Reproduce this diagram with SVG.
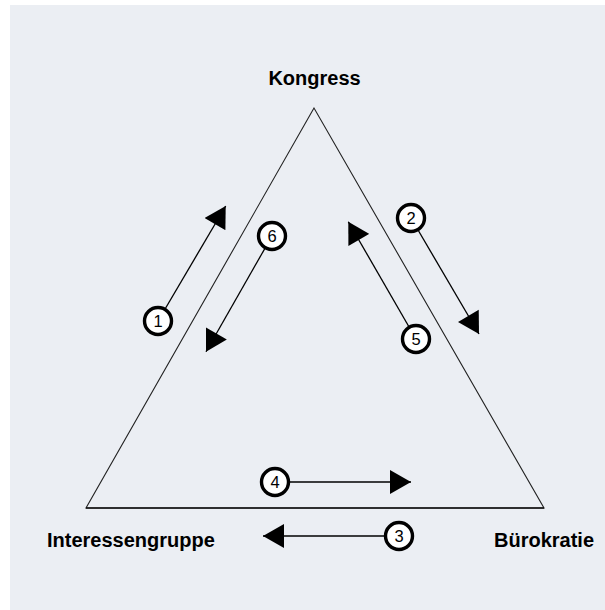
<svg xmlns="http://www.w3.org/2000/svg" width="605" height="610" viewBox="0 0 605 610">
  <defs>
    <marker id="head" markerUnits="userSpaceOnUse" markerWidth="22" markerHeight="24" viewBox="0 0 21 24" refX="21" refY="12" orient="auto">
      <path d="M0,0 L21,12 L0,24 Z" fill="#000"/>
    </marker>
    <style>
      .label { font-family: "Liberation Sans", Arial, sans-serif; font-weight: bold; font-size: 20px; fill: #000; }
      .edge { fill: none; stroke: #222; stroke-width: 1.1; }
      .arrow { fill: none; stroke: #000; stroke-width: 1.3; marker-end: url(#head); }
      .badge circle { fill: #fff; stroke: #000; stroke-width: 3.4; }
      .badge text { font-family: "Liberation Sans", Arial, sans-serif; font-size: 16.5px; fill: #000; text-anchor: middle; }
    </style>
  </defs>
  <rect x="0" y="0" width="605" height="610" fill="#ffffff"/>
  <rect x="10" y="5" width="595" height="605" fill="#ebeef3"/>

  <g id="triangle">
    <polygon class="edge" points="314,108 86,508 544,508"/>
    <line x1="86" y1="508" x2="544" y2="508" stroke="#111" stroke-width="1.5"/>
  </g>

  <g id="kongress">
    <text class="label" x="314.5" y="85" text-anchor="middle">Kongress</text>
  </g>
  <g id="interessengruppe">
    <text class="label" x="47" y="547">Interessengruppe</text>
  </g>
  <g id="buerokratie">
    <text class="label" x="594" y="547" text-anchor="end">Bürokratie</text>
  </g>

  <g id="connectors">
    <line class="arrow" x1="158" y1="321" x2="225.7" y2="206"/>
    <line class="arrow" x1="411" y1="218" x2="479" y2="334"/>
    <line class="arrow" x1="399" y1="536" x2="263" y2="536"/>
    <line class="arrow" x1="275" y1="482" x2="411" y2="482"/>
    <line class="arrow" x1="416" y1="339" x2="348.3" y2="221.7"/>
    <line class="arrow" x1="272" y1="236" x2="206" y2="351.7"/>
  </g>

  <g id="badge-1" class="badge"><circle cx="158" cy="321" r="13.5"/><text x="158" y="327">1</text></g>
  <g id="badge-2" class="badge"><circle cx="411" cy="218" r="13.5"/><text x="411" y="224">2</text></g>
  <g id="badge-3" class="badge"><circle cx="399" cy="536" r="13.5"/><text x="399" y="542">3</text></g>
  <g id="badge-4" class="badge"><circle cx="275" cy="482" r="13.5"/><text x="275" y="488">4</text></g>
  <g id="badge-5" class="badge"><circle cx="416" cy="339" r="13.5"/><text x="416" y="345">5</text></g>
  <g id="badge-6" class="badge"><circle cx="272" cy="236" r="13.5"/><text x="272" y="242">6</text></g>
</svg>
